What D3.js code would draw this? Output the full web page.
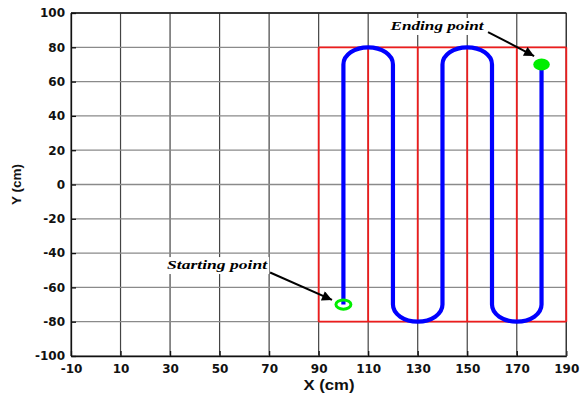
<!DOCTYPE html>
<html>
<head>
<meta charset="utf-8">
<script src="https://cdn.jsdelivr.net/npm/d3@7"></script>
<style>
  html, body { margin: 0; padding: 0; background: #fff; }
  svg { display: block; }
</style>
</head>
<body>
<svg id="chart" width="587" height="393"></svg>
<script>
// Axis ticks
const xTicks = [-10, 10, 30, 50, 70, 90, 110, 130, 150, 170, 190];
const yTicks = [-100, -80, -60, -40, -20, 0, 20, 40, 60, 80, 100];

// Scan region (red box) and its vertical division lines
const regionX = [90, 190];
const regionY = [-80, 80];
const regionLines = [90, 110, 130, 150, 170, 190];

// Boustrophedon sweep: lane x positions, straight-run limits, turn radius
const laneX = [100, 120, 140, 160, 180];
const runY = [-70, 70];
const turnRadius = 10;

// Start / end of the sweep
const startPoint = [100, -70];
const endPoint = [180, 70];

// Annotations: label anchor and arrow tail -> head (data units)
const startLabel = { text: "Starting point", at: [49, -49.3], tail: [70.4, -51.3], head: [95.4, -67.3] };
const endLabel = { text: "Ending point", at: [137.8, 90.1], tail: [158.4, 88.9], head: [177, 74.9] };

const svg = d3.select("#chart");
const plotLeft = 71, plotRight = 566.3, plotTop = 13, plotBottom = 356;

const x = d3.scaleLinear().domain([-10, 190]).range([plotLeft, plotRight]);
const y = d3.scaleLinear().domain([-100, 100]).range([plotBottom, plotTop]);

// Grid
const grid = svg.append("g");
grid.selectAll("line.v").data(xTicks).join("line")
  .attr("x1", d => x(d)).attr("x2", d => x(d))
  .attr("y1", plotTop).attr("y2", plotBottom)
  .attr("stroke", "#444").attr("stroke-width", 1.2);
grid.selectAll("line.h").data(yTicks).join("line")
  .attr("x1", plotLeft).attr("x2", plotRight)
  .attr("y1", d => y(d)).attr("y2", d => y(d))
  .attr("stroke", "#8a8a8a").attr("stroke-width", 1.3);

// Axes
const fmt = d => String(d);
const xAxis = svg.append("g").attr("transform", `translate(0,${plotBottom})`)
  .call(d3.axisBottom(x).tickValues(xTicks).tickFormat(fmt).tickSizeInner(-5).tickSizeOuter(0).tickPadding(8.5));
const yAxis = svg.append("g").attr("transform", `translate(${plotLeft},0)`)
  .call(d3.axisLeft(y).tickValues(yTicks).tickFormat(fmt).tickSizeInner(-5).tickSizeOuter(0).tickPadding(6));
[xAxis, yAxis].forEach(g => {
  g.select(".domain").attr("stroke", "#111").attr("stroke-width", 1.3);
  g.selectAll(".tick line").attr("stroke", "#111").attr("stroke-width", 1.3);
  g.selectAll(".tick text")
    .attr("font-family", "'DejaVu Sans', sans-serif")
    .attr("font-weight", "bold")
    .attr("font-size", 12)
    .attr("fill", "#111");
});
// Box top and right edges
svg.append("line").attr("x1", plotLeft).attr("x2", plotRight).attr("y1", plotTop).attr("y2", plotTop)
  .attr("stroke", "#111").attr("stroke-width", 1.3);
svg.append("line").attr("x1", plotRight).attr("x2", plotRight).attr("y1", plotTop).attr("y2", plotBottom)
  .attr("stroke", "#333").attr("stroke-width", 1.2);

// Axis titles
svg.append("text").text("X (cm)")
  .attr("x", 329).attr("y", 389.5).attr("text-anchor", "middle")
  .attr("font-family", "'Liberation Sans', Arial, sans-serif").attr("font-weight", "bold")
  .attr("font-size", 14).attr("textLength", 51).attr("lengthAdjust", "spacingAndGlyphs")
  .attr("fill", "#111");
svg.append("text").text("Y (cm)")
  .attr("transform", `translate(20.5,${(plotTop + plotBottom) / 2}) rotate(-90)`)
  .attr("text-anchor", "middle")
  .attr("font-family", "'Liberation Sans', Arial, sans-serif").attr("font-weight", "bold")
  .attr("font-size", 13.5).attr("fill", "#111");

// Red scan region
const region = svg.append("g").attr("stroke", "#ee1c1c").attr("stroke-width", 1.8);
region.selectAll("line.div").data(regionLines).join("line")
  .attr("x1", d => x(d)).attr("x2", d => x(d))
  .attr("y1", y(regionY[0])).attr("y2", y(regionY[1]));
region.append("line").attr("x1", x(regionX[0])).attr("x2", x(regionX[1]))
  .attr("y1", y(regionY[1])).attr("y2", y(regionY[1]));
region.append("line").attr("x1", x(regionX[0])).attr("x2", x(regionX[1]))
  .attr("y1", y(regionY[0])).attr("y2", y(regionY[0]));

// Blue sweep path: straight runs joined by half-turns of radius turnRadius
const rx = Math.abs(x(turnRadius) - x(0));
const ry = Math.abs(y(turnRadius) - y(0));
let pathD = "";
laneX.forEach((lx, i) => {
  const goingUp = i % 2 === 0;
  const y0 = goingUp ? runY[0] : runY[1];
  const y1 = goingUp ? runY[1] : runY[0];
  if (i === 0) pathD += `M${x(lx)},${y(y0)}`;
  pathD += `L${x(lx)},${y(y1)}`;
  if (i < laneX.length - 1) {
    const nx = laneX[i + 1];
    pathD += `A${rx},${ry} 0 0 ${goingUp ? 1 : 0} ${x(nx)},${y(y1)}`;
  }
});
svg.append("path").attr("d", pathD)
  .attr("fill", "none").attr("stroke", "#0000ff").attr("stroke-width", 4.2);

// Start (hollow) and end (filled) markers
svg.append("ellipse")
  .attr("cx", x(startPoint[0])).attr("cy", y(startPoint[1]))
  .attr("rx", 7.5).attr("ry", 4.6)
  .attr("fill", "none").attr("stroke", "#00ee00").attr("stroke-width", 3);
svg.append("ellipse")
  .attr("cx", x(endPoint[0])).attr("cy", y(endPoint[1]))
  .attr("rx", 8.3).attr("ry", 6)
  .attr("fill", "#00ee00");

// Annotations
const defs = svg.append("defs");
defs.append("marker").attr("id", "arrowhead")
  .attr("viewBox", "0 0 10 10").attr("refX", 10).attr("refY", 5)
  .attr("markerWidth", 6).attr("markerHeight", 5).attr("markerUnits", "strokeWidth")
  .attr("orient", "auto")
  .append("path").attr("d", "M0,0 L10,5 L0,10 Z").attr("fill", "#000");

function annotate(a, width) {
  const tx = x(a.at[0]), ty = y(a.at[1]);
  svg.append("rect")
    .attr("x", tx - width / 2 - 2).attr("y", ty - 12)
    .attr("width", width + 4).attr("height", 17)
    .attr("fill", "#fff");
  svg.append("text").text(a.text)
    .attr("x", tx).attr("y", ty).attr("text-anchor", "middle")
    .attr("font-family", "'Liberation Serif', 'Times New Roman', serif")
    .attr("font-weight", "bold").attr("font-style", "italic")
    .attr("font-size", 13.5)
    .attr("textLength", width).attr("lengthAdjust", "spacingAndGlyphs")
    .attr("fill", "#000");
  svg.append("line")
    .attr("x1", x(a.tail[0])).attr("y1", y(a.tail[1]))
    .attr("x2", x(a.head[0])).attr("y2", y(a.head[1]))
    .attr("stroke", "#000").attr("stroke-width", 2)
    .attr("marker-end", "url(#arrowhead)");
}
annotate(startLabel, 100);
annotate(endLabel, 93);
</script>
</body>
</html>
